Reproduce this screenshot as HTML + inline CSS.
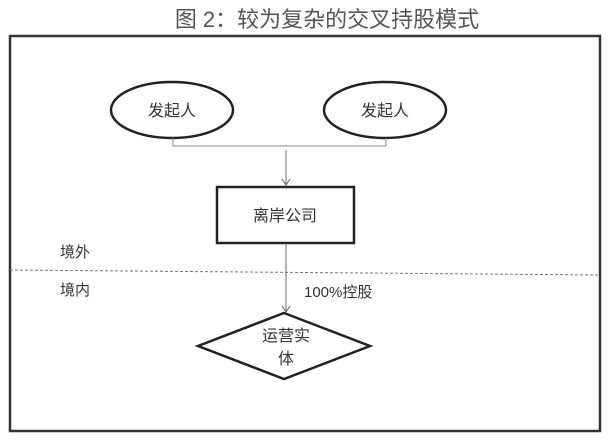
<!DOCTYPE html>
<html><head><meta charset="utf-8"><style>
body{margin:0;background:#fff;width:612px;height:438px;overflow:hidden}
svg text{font-family:"Liberation Sans","Noto Sans CJK SC",sans-serif;fill:#333}
</style></head><body>
<svg width="612" height="438" viewBox="0 0 612 438">
<text x="327" y="27" font-size="22" text-anchor="middle" fill="#666" style="fill:#555">图 2：较为复杂的交叉持股模式</text>
<rect x="10" y="36" width="590" height="395" fill="none" stroke="#333" stroke-width="2.5"/>
<ellipse cx="172" cy="110" rx="61" ry="28" fill="#fff" stroke="#222" stroke-width="2.5"/>
<ellipse cx="385" cy="110" rx="61" ry="28" fill="#fff" stroke="#222" stroke-width="2.5"/>
<text x="172" y="116" font-size="16" text-anchor="middle">发起人</text>
<text x="385" y="116" font-size="16" text-anchor="middle">发起人</text>
<polyline points="173,138 173,146 386,146 386,138" fill="none" stroke="#888" stroke-width="1"/>
<line x1="286" y1="150" x2="286" y2="185" stroke="#666" stroke-width="1"/>
<polyline points="282,179 286,185 290,179" fill="none" stroke="#666" stroke-width="1"/>
<rect x="217" y="187" width="137" height="56" fill="#fff" stroke="#222" stroke-width="2.5"/>
<text x="285" y="221" font-size="16" text-anchor="middle">离岸公司</text>
<text x="60" y="257" font-size="15">境外</text>
<line x1="10" y1="270" x2="600" y2="275" stroke="#777" stroke-width="1" stroke-dasharray="3,2"/>
<text x="60" y="295" font-size="15">境内</text>
<line x1="286" y1="243" x2="286" y2="312" stroke="#666" stroke-width="1"/>
<polyline points="282,306 286,312 290,306" fill="none" stroke="#666" stroke-width="1"/>
<text x="304" y="297" font-size="15">100%控股</text>
<polygon points="284,313 370,346 284,379 198,346" fill="#fff" stroke="#222" stroke-width="2.5"/>
<text x="286" y="341" font-size="16" text-anchor="middle">运营实</text>
<text x="286" y="364" font-size="16" text-anchor="middle">体</text>
</svg>
</body></html>
